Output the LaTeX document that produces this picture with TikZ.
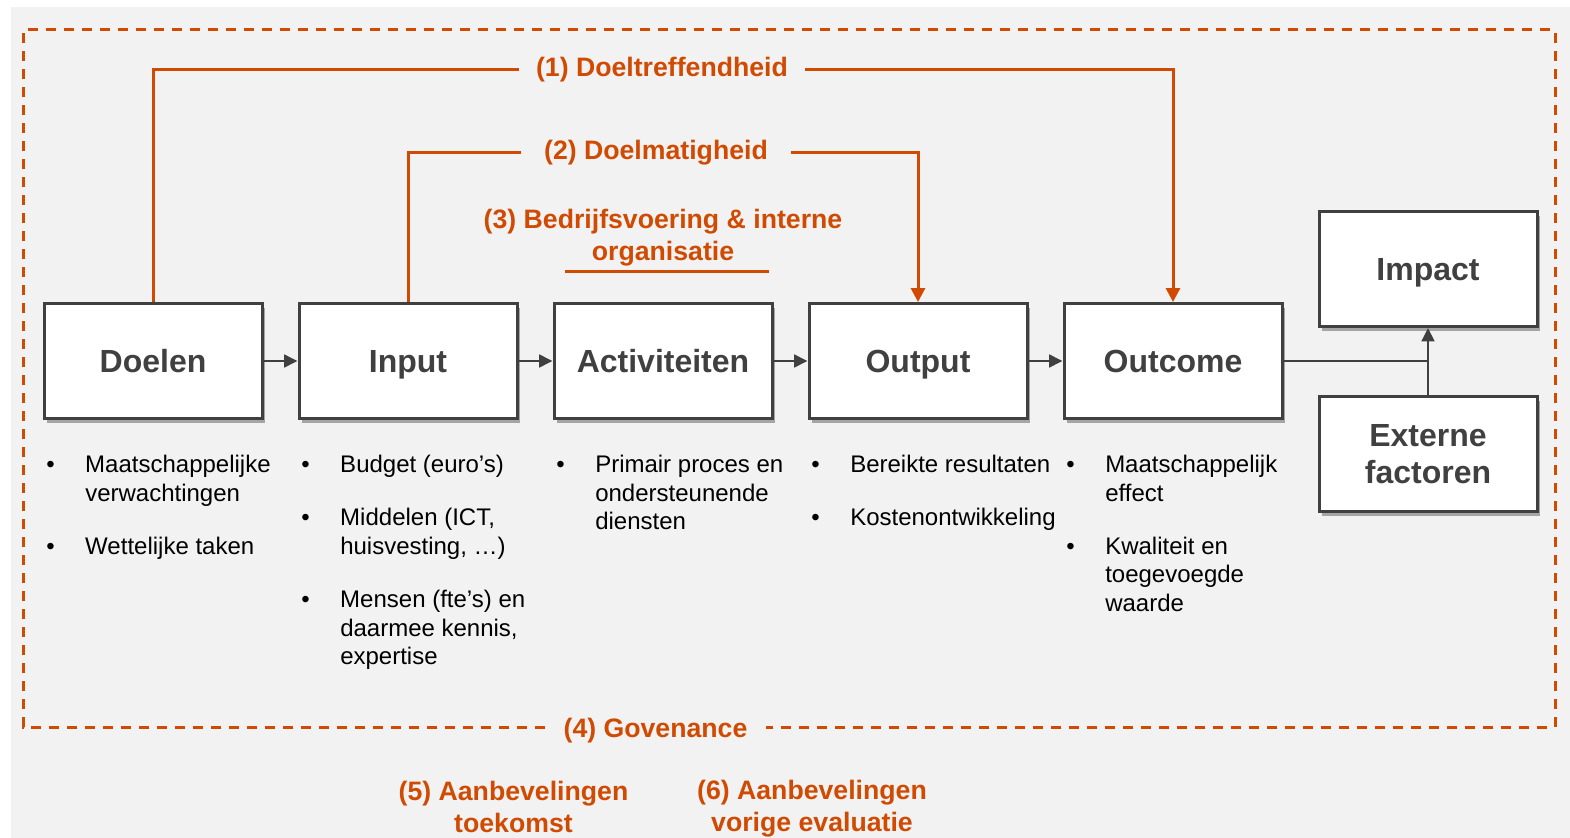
\documentclass[tikz,border=0pt]{standalone}
\usepackage{fontspec}
\setmainfont{Liberation Sans}
\usetikzlibrary{arrows.meta,shadows}
\definecolor{pwcorange}{RGB}{208,74,2}
\definecolor{boxgrey}{RGB}{64,64,64}
\definecolor{bggrey}{RGB}{242,242,242}
\tikzset{
  stage/.style={draw=boxgrey, line width=2.25pt, fill=white, text=boxgrey,
    font=\fontsize{24}{27.75}\selectfont\bfseries, align=center, inner sep=0pt,
    minimum width=163.5pt, minimum height=86.25pt, text depth=0pt,
    drop shadow={shadow xshift=2pt, shadow yshift=-3pt, fill=black!65, opacity=0.5}},
  flow/.style={draw=boxgrey, line width=1.9pt, -{Triangle[length=10pt,width=9.5pt]}},
  flowline/.style={draw=boxgrey, line width=1.9pt},
  orangeline/.style={draw=pwcorange, line width=2.25pt},
  orangearrow/.style={orangeline, -{Triangle[length=10.5pt,width=10.5pt]}},
  frame/.style={draw=pwcorange, line width=2.25pt, dash pattern=on 7.5pt off 6pt},
  orangelabel/.style={text=pwcorange, font=\fontsize{20}{24}\selectfont\bfseries,
    align=center, inner xsep=12.75pt, inner ysep=1.5pt},
  bullets/.style={font=\fontsize{18}{21.4}\selectfont, inner sep=0pt, anchor=north west, text=black}
}
\begin{document}
\begin{tikzpicture}[x=0.75pt,y=0.75pt,yscale=-1,xscale=1]
\useasboundingbox (0,0) rectangle (1570,838);
%Shape: Rectangle
\fill[bggrey] (11,7) rectangle (1570,838);

%Shape: Boxes
\node[stage] (doelen) at (153,361) {Doelen};
\node[stage] (input) at (408,361) {Input};
\node[stage] (activiteiten) at (663,361) {Activiteiten};
\node[stage] (output) at (918,361) {Output};
\node[stage] (outcome) at (1173,361) {Outcome};
\node[stage] (impact) at (1428,269) {Impact};
\node[stage] (externe) at (1428,454) {Externe\\factoren};

%Straight Lines
\draw[flow] (doelen) -- (input);
\draw[flow] (input) -- (activiteiten);
\draw[flow] (activiteiten) -- (output);
\draw[flow] (output) -- (outcome);
\draw[flowline] (outcome.east) -- (outcome.east -| impact.south);
\draw[flow] (externe.north) -- (impact.south);

% Text Node
\node[orangelabel] (doeltreffend) at (662,70) {(1) Doeltreffendheid};
% Text Node
\node[orangelabel, inner xsep=17.5pt] (doelmatig) at (656,153) {(2) Doelmatigheid};
% Text Node
\node[orangelabel] (bedrijf) at (663,237.6) {(3) Bedrijfsvoering \& interne\\organisatie};
% Text Node
\node[orangelabel, inner xsep=13.5pt] (govenance) at (655.5,727) {\raisebox{-2.5pt}[0.74em][0.21em]{(4) Govenance}};
% Text Node
\node[orangelabel] (aanbeveltoekomst) at (513.5,806.8) {(5) Aanbevelingen\\toekomst};
% Text Node
\node[orangelabel] (aanbevelvorige) at (812,808.6) {(6) Aanbevelingen\\vorige evaluatie};

%Straight Lines
\draw[orangeline] (doelen.north) |- (doeltreffend.west);
\draw[orangearrow] (doeltreffend.east) -| (outcome.north);
\draw[orangeline] (input.north) |- (doelmatig.west);
\draw[orangearrow] (doelmatig.east) -| (output.north);
\draw[orangeline] (565,271) -- (769,271);

%Shape: Dashed Rectangle
\coordinate (frameNW) at (23,30);
\coordinate (frameSE) at (1555,727);
\draw[frame] (govenance.west) -| (frameNW) -| (frameSE) -- (govenance.east);

% Text Node
\node[bullets] (doelenlist) at (46,452.6) {\begin{tabular}{@{}p{29.25pt}@{}l@{}}
\textbullet & Maatschappelijke\\
 & verwachtingen\\[18.4pt]
\textbullet & Wettelijke taken
\end{tabular}};
% Text Node
\node[bullets] (inputlist) at (301,452.6) {\begin{tabular}{@{}p{29.25pt}@{}l@{}}
\textbullet & Budget (euro’s)\\[18.4pt]
\textbullet & Middelen (ICT,\\
 & huisvesting, …)\\[18.4pt]
\textbullet & Mensen (fte’s) en\\
 & daarmee kennis,\\
 & expertise
\end{tabular}};
% Text Node
\node[bullets] (activiteitenlist) at (556,452.6) {\begin{tabular}{@{}p{29.25pt}@{}l@{}}
\textbullet & Primair proces en\\
 & ondersteunende\\
 & diensten
\end{tabular}};
% Text Node
\node[bullets] (outputlist) at (811,452.6) {\begin{tabular}{@{}p{29.25pt}@{}l@{}}
\textbullet & Bereikte resultaten\\[18.4pt]
\textbullet & Kostenontwikkeling
\end{tabular}};
% Text Node
\node[bullets] (outcomelist) at (1066,452.6) {\begin{tabular}{@{}p{29.25pt}@{}l@{}}
\textbullet & Maatschappelijk\\
 & effect\\[18.4pt]
\textbullet & Kwaliteit en\\
 & toegevoegde\\
 & waarde
\end{tabular}};

\end{tikzpicture}
\end{document}
